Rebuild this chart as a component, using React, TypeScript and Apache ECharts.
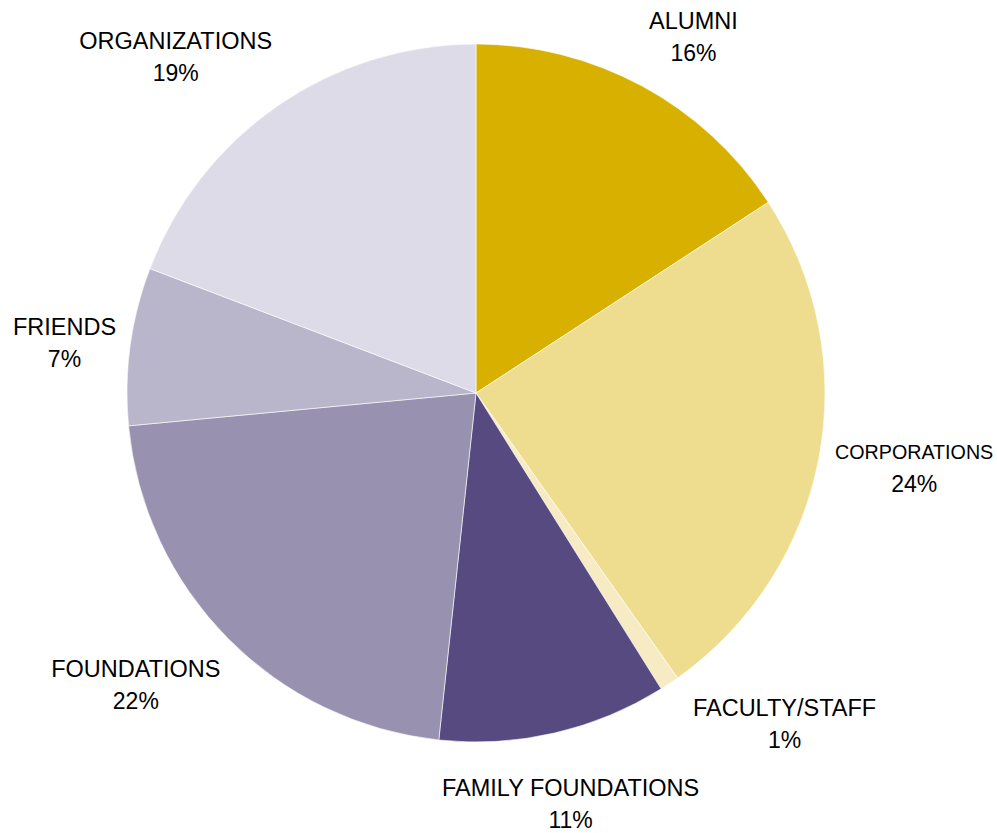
import React, { useEffect, useRef } from 'react';
import * as echarts from 'echarts';

const categories = ['ALUMNI', 'CORPORATIONS', 'FACULTY/STAFF', 'FAMILY FOUNDATIONS', 'FOUNDATIONS', 'FRIENDS', 'ORGANIZATIONS'];
const shares = [15.8, 24.4, 0.9, 10.6, 21.8, 7.3, 19.2];
const colors = ['#D8B000', '#EEDD8F', '#F6EBC2', '#564A80', '#9892B0', '#B9B5CA', '#DDDBE7'];

const CX = 476;
const CY = 393;
const R = 349;
const GAP = 17;
// small angular nudges (degrees) of label placement relative to slice mid-angle
const angleNudge: Record<string, number> = {
  ALUMNI: 3,
  CORPORATIONS: -1.1,
  'FACULTY/STAFF': -9.3,
  FOUNDATIONS: 4,
  FRIENDS: -0.8,
  ORGANIZATIONS: -7.2,
};
const gapNudge: Record<string, number> = {
  ALUMNI: 4,
  CORPORATIONS: -4,
  'FACULTY/STAFF': 4,
  FRIENDS: -6,
  ORGANIZATIONS: 0,
};
const condensed = ['CORPORATIONS'];

export default function App() {
  const ref = useRef<HTMLDivElement>(null);
  useEffect(() => {
    document.body.style.margin = '0';
    const chart = echarts.init(ref.current!, null, { renderer: 'svg' });
    const total = shares.reduce((a, b) => a + b, 0);
    const mids: number[] = [];
    let acc = 0;
    shares.forEach((v) => {
      mids.push(((acc + v / 2) / total) * 360);
      acc += v;
    });
    const font = '"Liberation Sans", Arial, sans-serif';
    chart.setOption({
      animation: false,
      backgroundColor: '#ffffff',
      series: [
        {
          type: 'pie',
          center: [CX, CY],
          radius: R,
          startAngle: 90,
          clockwise: true,
          avoidLabelOverlap: false,
          data: categories.map((n, i) => ({ name: n, value: shares[i], itemStyle: { color: colors[i] } })),
          itemStyle: { borderColor: '#ffffff', borderWidth: 0.6 },
          emphasis: { disabled: true },
          label: {
            show: true,
            position: 'outside',
            color: '#000',
            fontFamily: font,
            formatter: (p: any) =>
              `{${condensed.includes(p.name) ? 'nc' : 'n'}|${p.name}}\n{p|${Math.round(p.value)}%}`,
            rich: {
              n: { fontSize: 23.5, lineHeight: 32, align: 'center', color: '#000', fontFamily: font },
              nc: { fontSize: 19.7, lineHeight: 32, align: 'center', color: '#000', fontFamily: font },
              p: { fontSize: 23, lineHeight: 32, align: 'center', color: '#000', fontFamily: font },
            },
          },
          labelLine: { show: false },
          labelLayout: (params: any) => {
            const i = params.dataIndex;
            const name = categories[i];
            const deg = mids[i] + (angleNudge[name] || 0);
            const th = (deg * Math.PI) / 180;
            const ux = Math.sin(th);
            const uy = -Math.cos(th);
            const w = params.labelRect.width;
            const h = params.labelRect.height;
            const d = R + GAP + (gapNudge[name] || 0) + (Math.abs(ux) * w) / 2 + (Math.abs(uy) * h) / 2;
            return { x: CX + ux * d, y: CY + uy * d, align: 'center', verticalAlign: 'middle' };
          },
        },
      ],
    });
    return () => chart.dispose();
  }, []);
  return <div ref={ref} style={{ width: 997, height: 833 }} />;
}
